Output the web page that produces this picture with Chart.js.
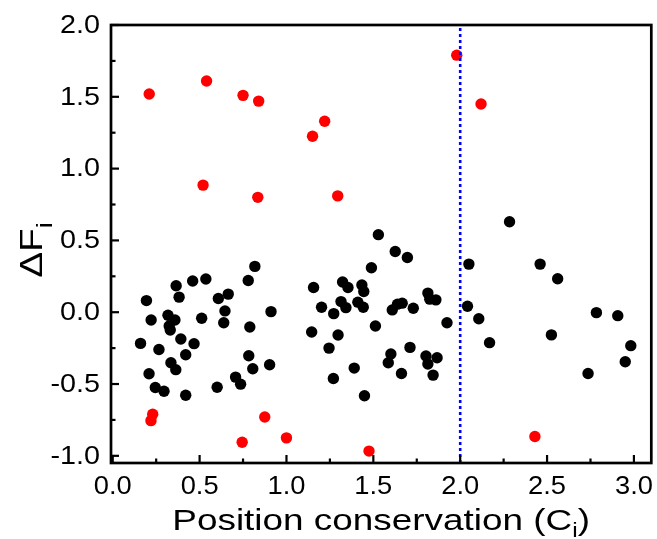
<!DOCTYPE html>
<html>
<head>
<meta charset="utf-8">
<script src="https://cdn.jsdelivr.net/npm/chart.js@4.4.0/dist/chart.umd.min.js"></script>
<style>
    html, body { margin: 0; padding: 0; background: #fff; }
</style>
</head>
<body>
<canvas id="grafico" width="657" height="539"></canvas>
<script>
// pontos "normais" (pretos)
const pretoX = [0.16, 0.194, 0.221, 0.209, 0.245, 0.266, 0.295, 0.318, 0.325, 0.331,
    0.358, 0.365, 0.382, 0.335, 0.363, 0.392, 0.42, 0.42, 0.468, 0.46,
    0.512, 0.536, 0.601, 0.608, 0.646, 0.639, 0.665, 0.707, 0.736, 0.78,
    0.789, 0.783, 0.806, 0.818, 0.903, 0.911,
    1.145, 1.156, 1.202, 1.272, 1.245, 1.27, 1.297, 1.314, 1.323, 1.342,
    1.354, 1.39, 1.411, 1.434, 1.445, 1.442, 1.449, 1.489, 1.512, 1.529,
    1.626, 1.696, 1.609, 1.639, 1.666, 1.73, 1.814, 1.825, 1.86, 1.924,
    1.711, 1.601, 1.586, 1.662, 1.803, 1.814, 1.867, 1.844,
    2.05, 2.042, 2.107, 2.169, 2.284, 2.46, 2.561, 2.525, 2.784, 2.907, 2.982, 2.95, 2.736];
const pretoY = [-0.217, 0.081, -0.054, -0.428, -0.524, -0.26, -0.55, -0.021, -0.096, -0.124,
    -0.054, 0.184, 0.105, -0.352, -0.4, -0.187, -0.296, -0.578, -0.219, 0.217,
    -0.042, 0.231, -0.522, 0.095, 0.009, -0.073, 0.126, -0.452, -0.501, 0.221,
    -0.103, -0.303, -0.394, 0.319, -0.366, 0.004,
    -0.138, 0.172, 0.035, -0.01, -0.25, -0.462, -0.159, 0.074, 0.21, 0.032,
    0.172, -0.389, 0.07, 0.189, 0.144, 0.035, -0.582, 0.31, -0.096, 0.54,
    0.423, 0.381, 0.016, 0.056, 0.063, 0.028, 0.133, 0.091, 0.086, -0.073,
    -0.245, -0.291, -0.352, -0.427, -0.305, -0.361, -0.317, -0.438,
    0.335, 0.042, -0.045, -0.212, 0.63, 0.335, 0.233, -0.158, -0.003, -0.024, -0.233, -0.345, -0.427];

// pontos destacados (vermelhos)
const vermelhoX = [0.21, 0.54, 0.75, 0.84, 1.15, 1.22, 0.52, 0.835, 1.295, 1.98, 2.12,
    0.23, 0.22, 0.745, 0.875, 1.0, 1.475, 2.43];
const vermelhoY = [1.52, 1.61, 1.51, 1.47, 1.225, 1.33, 0.885, 0.80, 0.81, 1.79, 1.45,
    -0.71, -0.755, -0.905, -0.73, -0.875, -0.967, -0.865];

// linha de corte
const corteX = 2.0;

// limites dos eixos
const limitesX = [-0.01, 3.1];
const limitesY = [-1.05, 2.0];
const passoTick = 0.5;
const passoMenor = 0.25;

const fonte = "'Liberation Sans', Arial, sans-serif";

const juntar = (xs, ys) => xs.map((x, i) => ({ x: x, y: ys[i] }));

function textoEsticado(ctx, txt, x, y, sx, align) {
    ctx.save();
    ctx.translate(x, y);
    ctx.scale(sx, 1);
    ctx.textAlign = align;
    ctx.fillText(txt, 0, 0);
    ctx.restore();
}

// desenha partes de texto (com subscrito) centradas em cx
function desenhaPartes(ctx, partes, cx, base, sx) {
    let total = 0;
    partes.forEach(p => {
        ctx.font = p.tam + "px " + fonte;
        p.larg = ctx.measureText(p.t).width * sx;
        total += p.larg;
    });
    let x = cx - total / 2;
    partes.forEach(p => {
        ctx.font = p.tam + "px " + fonte;
        textoEsticado(ctx, p.t, x, base + (p.dy || 0), sx, "left");
        x += p.larg;
    });
}

const moldura = {
    id: "moldura",
    afterDraw(chart) {
        const ctx = chart.ctx;
        const area = chart.chartArea;
        const sx = chart.scales.x;
        const sy = chart.scales.y;

        ctx.save();
        ctx.strokeStyle = "#000";
        ctx.fillStyle = "#000";

        // ticks para dentro
        ctx.lineWidth = 2.2;
        const n0x = Math.ceil(limitesX[0] / passoMenor);
        const n1x = Math.floor(limitesX[1] / passoMenor);
        for (let k = n0x; k <= n1x; k++) {
            const px = sx.getPixelForValue(k * passoMenor);
            const len = (k % 2 === 0) ? 8 : 4.5;
            ctx.beginPath();
            ctx.moveTo(px, area.bottom);
            ctx.lineTo(px, area.bottom - len);
            ctx.stroke();
        }
        const n0y = Math.ceil(limitesY[0] / passoMenor);
        const n1y = Math.floor(limitesY[1] / passoMenor);
        for (let k = n0y; k <= n1y; k++) {
            const py = sy.getPixelForValue(k * passoMenor);
            const len = (k % 2 === 0) ? 8 : 4.5;
            ctx.beginPath();
            ctx.moveTo(area.left, py);
            ctx.lineTo(area.left + len, py);
            ctx.stroke();
        }

        // moldura
        ctx.lineWidth = 2.7;
        ctx.strokeRect(area.left, area.top, area.right - area.left, area.bottom - area.top);

        // rótulos dos ticks
        ctx.textBaseline = "alphabetic";
        ctx.font = "26px " + fonte;
        sx.ticks.forEach(t => {
            const px = sx.getPixelForValue(t.value);
            textoEsticado(ctx, t.value.toFixed(1), px, area.bottom + 31, 1.05, "center");
        });
        ctx.font = "25px " + fonte;
        ctx.textBaseline = "middle";
        sy.ticks.forEach(t => {
            const py = sy.getPixelForValue(t.value);
            textoEsticado(ctx, t.value.toFixed(1), area.left - 11, py + 1, 1.15, "right");
        });

        // título do eixo x
        ctx.textBaseline = "alphabetic";
        const cx = (area.left + area.right) / 2;
        desenhaPartes(ctx, [
            { t: "Position conservation (C", tam: 30 },
            { t: "i", tam: 20, dy: 7 },
            { t: ")", tam: 30 }
        ], cx, 530, 1.23);

        // título do eixo y
        ctx.save();
        ctx.translate(42, 250);
        ctx.rotate(-Math.PI / 2);
        desenhaPartes(ctx, [
            { t: "\u0394F", tam: 31 },
            { t: "i", tam: 22, dy: 10 }
        ], 0, 0, 1.25);
        ctx.restore();

        ctx.restore();
    }
};

new Chart(document.getElementById("grafico"), {
    type: "scatter",
    data: {
        datasets: [
            {
                type: "line",
                data: [{ x: corteX, y: limitesY[0] }, { x: corteX, y: limitesY[1] }],
                borderColor: "#0000ff",
                borderWidth: 2.6,
                borderDash: [3, 3],
                pointRadius: 0,
                fill: false,
                order: 0
            },
            {
                data: juntar(vermelhoX, vermelhoY),
                backgroundColor: "#ff0000",
                borderWidth: 0,
                pointRadius: 5.7,
                order: 1
            },
            {
                data: juntar(pretoX, pretoY),
                backgroundColor: "#000000",
                borderWidth: 0,
                pointRadius: 5.7,
                order: 2
            }
        ]
    },
    options: {
        responsive: false,
        devicePixelRatio: 1,
        animation: false,
        layout: { padding: { left: 0, right: 3, top: 25, bottom: 0 } },
        plugins: {
            legend: { display: false },
            tooltip: { enabled: false }
        },
        scales: {
            x: {
                type: "linear",
                min: limitesX[0],
                max: limitesX[1],
                grid: { display: false },
                border: { display: false },
                ticks: { display: false, stepSize: passoTick, includeBounds: false },
                afterFit: s => { s.height = 76; }
            },
            y: {
                type: "linear",
                min: limitesY[0],
                max: limitesY[1],
                grid: { display: false },
                border: { display: false },
                ticks: { display: false, stepSize: passoTick, includeBounds: false },
                afterFit: s => { s.width = 111; }
            }
        }
    },
    plugins: [moldura]
});
</script>
</body>
</html>
